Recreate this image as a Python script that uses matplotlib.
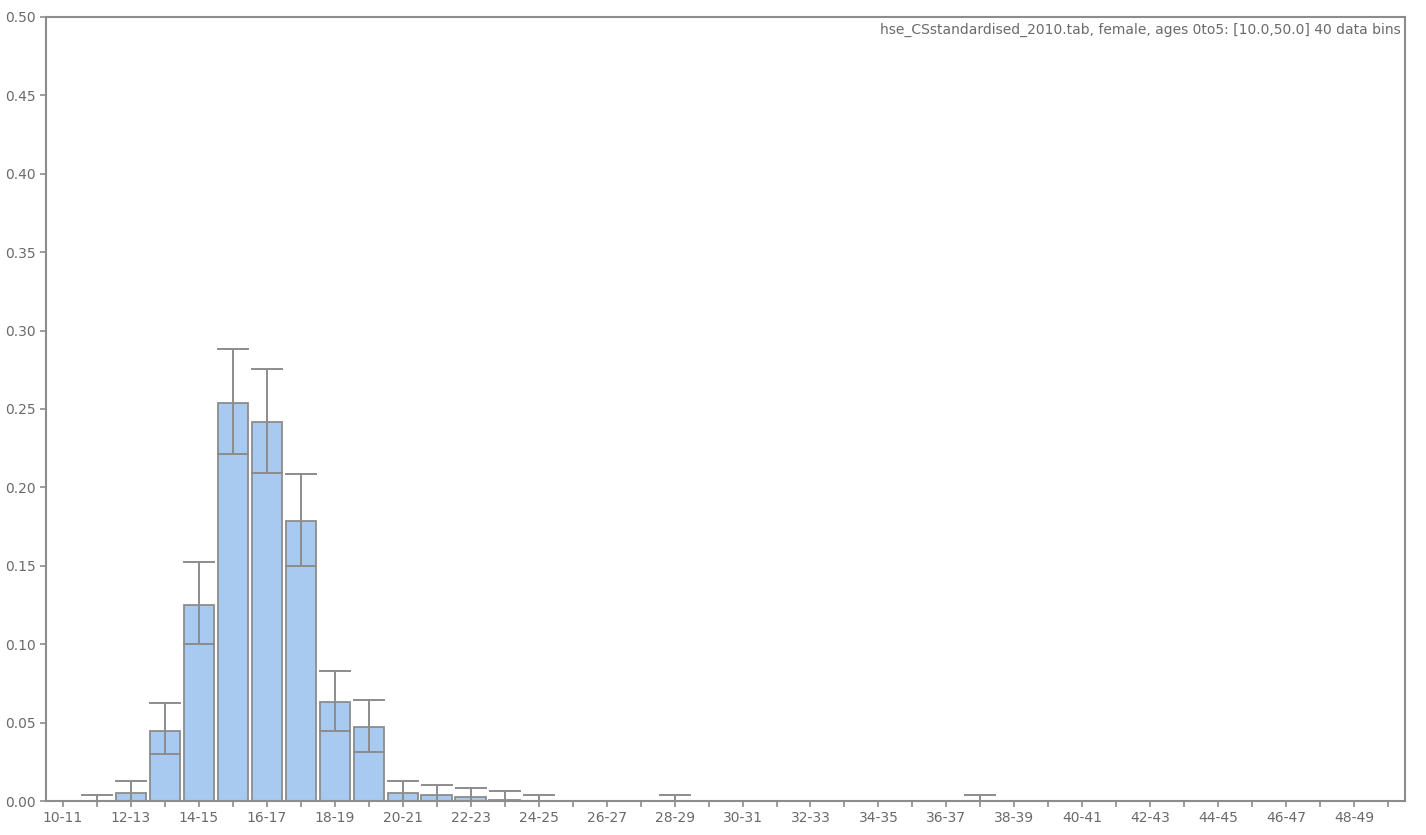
import numpy as np
import matplotlib.pyplot as plt

# bins 10..50, one unit wide
bin_lo = np.arange(10, 50)
labels = ['%d-%d' % (b, b + 1) for b in bin_lo]

# fraction per bin (zeros elsewhere)
values = np.zeros(40)
err_lo = np.zeros(40)
err_hi = np.zeros(40)

vals = {12: 0.005, 13: 0.0446, 14: 0.125, 15: 0.2538, 16: 0.2417, 17: 0.1786,
        18: 0.0631, 19: 0.0472, 20: 0.005, 21: 0.004, 22: 0.0027, 23: 0.0009}
lower = {12: 0.0, 13: 0.030, 14: 0.100, 15: 0.221, 16: 0.209, 17: 0.1499,
         18: 0.0446, 19: 0.0313, 20: 0.0, 21: 0.0, 22: 0.0, 23: 0.0}
upper = {11: 0.0038, 12: 0.0128, 13: 0.0625, 14: 0.1524, 15: 0.2883, 16: 0.2755,
         17: 0.2085, 18: 0.0829, 19: 0.0644, 20: 0.0128, 21: 0.0102, 22: 0.0083,
         23: 0.0064, 24: 0.0038, 28: 0.0038, 37: 0.0038}

for b, v in vals.items():
    values[b - 10] = v
for b, v in lower.items():
    err_lo[b - 10] = values[b - 10] - v
has_err = np.zeros(40, dtype=bool)
for b, v in upper.items():
    err_hi[b - 10] = v - values[b - 10]
    has_err[b - 10] = True

grey = '#8c8c8c'
txt = '#6a6a6a'

fig = plt.figure(figsize=(14.26, 8.35), dpi=100)
ax = fig.add_axes([0.0323, 0.0407, 0.953, 0.939])

x = bin_lo + 0.5
ax.bar(x, values, width=0.9, color='#a8caf0', edgecolor=grey, linewidth=1.3, zorder=2)
ax.errorbar(x[has_err], values[has_err],
            yerr=[err_lo[has_err], err_hi[has_err]],
            fmt='none', ecolor=grey, elinewidth=1.4, capsize=11.5, capthick=1.4, zorder=3)

ax.set_xlim(10, 50)
ax.set_ylim(0, 0.5)
ax.set_yticks(np.arange(0, 0.501, 0.05))
ax.set_yticklabels(['%.2f' % t for t in np.arange(0, 0.501, 0.05)])
ax.set_xticks(x)
ax.set_xticklabels([l if i % 2 == 0 else '' for i, l in enumerate(labels)])

for s in ax.spines.values():
    s.set_color(grey)
    s.set_linewidth(1.5)
ax.tick_params(colors=grey, labelcolor=txt, labelsize=10, length=4, width=1.2)

ax.text(0.997, 0.993, 'hse_CSstandardised_2010.tab, female, ages 0to5: [10.0,50.0] 40 data bins',
        transform=ax.transAxes, ha='right', va='top', fontsize=10, color=txt)

fig.savefig('out.png', dpi=100)
